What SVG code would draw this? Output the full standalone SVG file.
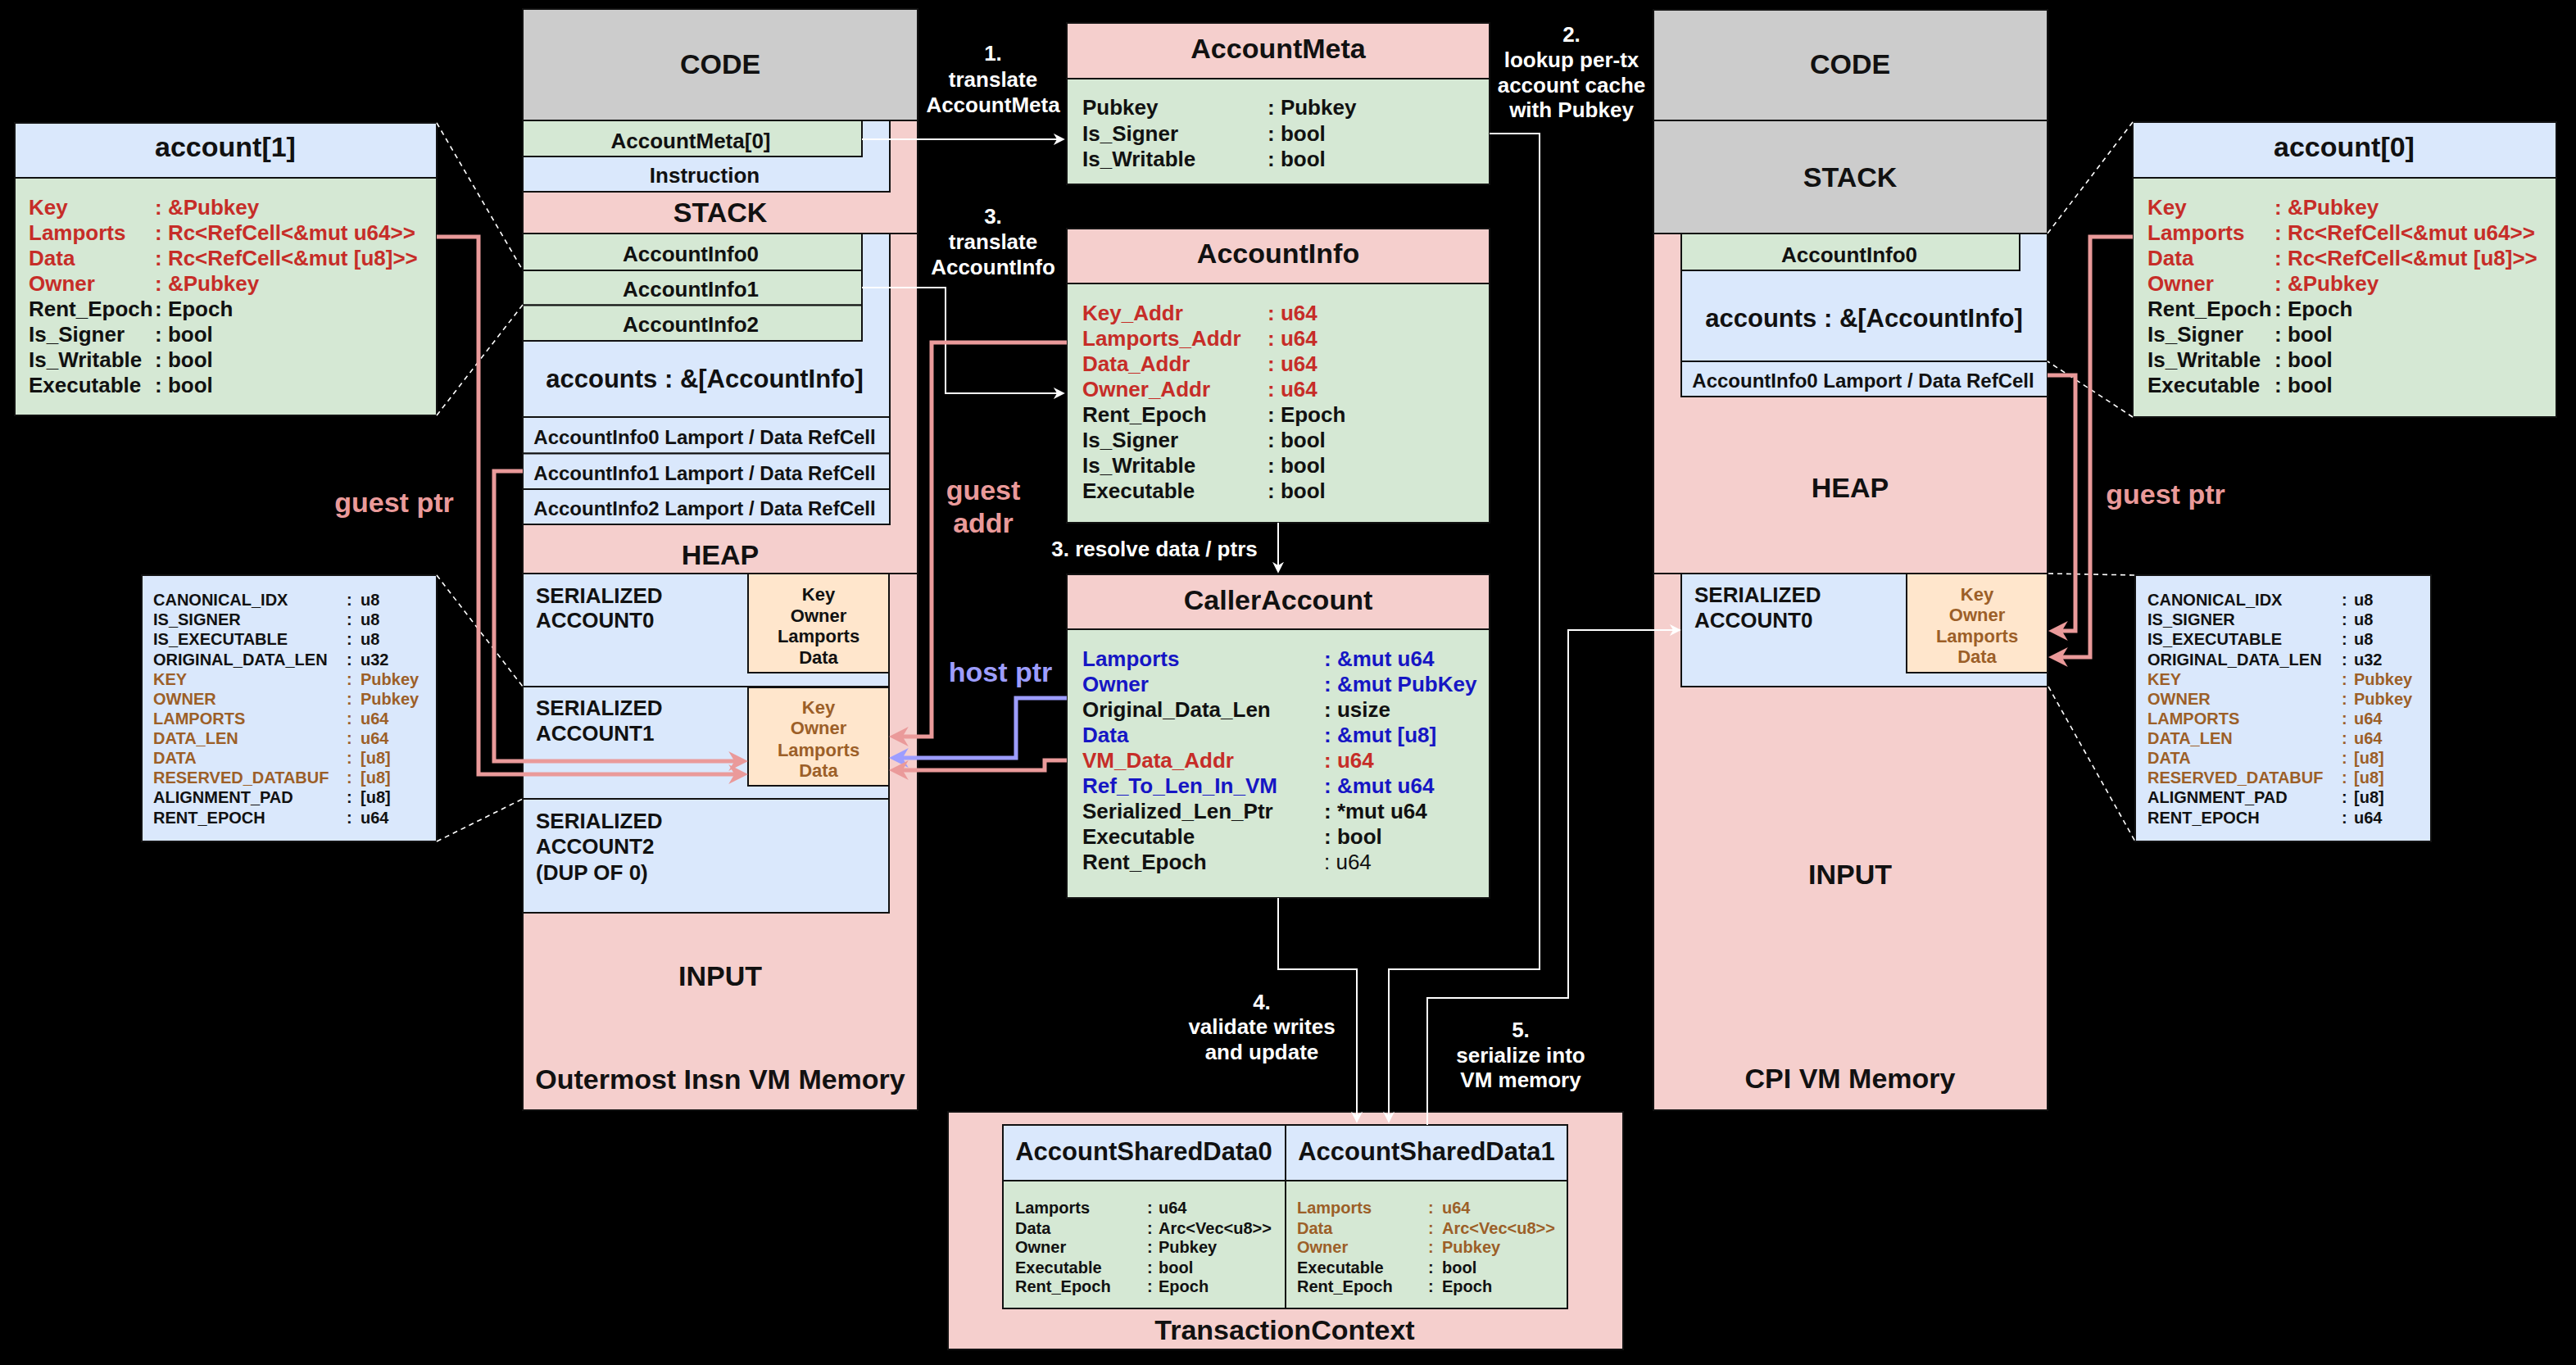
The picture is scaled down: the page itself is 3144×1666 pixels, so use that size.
<svg xmlns="http://www.w3.org/2000/svg" width="3144" height="1666" viewBox="0 0 3144 1666">
<style>
text{font-family:"Liberation Sans",Arial,sans-serif;font-weight:bold;dominant-baseline:central;fill:#111}
.c{text-anchor:middle}
.s34{font-size:34px}
.s31{font-size:31px}
.s26{font-size:26px}
.s24{font-size:24px}
.s22{font-size:22px}
.s20{font-size:20px}
.w{fill:#fff}
.red{fill:#C62D28}
.blu{fill:#1616C4}
.brn{fill:#9C5F28}
.gp{fill:#EA9A9A}
.hp{fill:#9D9DFF}
.nw{font-weight:normal}
.b{stroke:#111;stroke-width:2}
.pk{fill:#F5CFCD}
.bl{fill:#DAE8FC}
.gr{fill:#D5E8D4}
.or{fill:#FFE6CC}
.gy{fill:#CCCCCC}
.wl{fill:none;stroke:#fff;stroke-width:2}
.pl{fill:none;stroke:#EA9A9A;stroke-width:5}
.bll{fill:none;stroke:#9D9DFF;stroke-width:5}
.dl{fill:none;stroke:#fff;stroke-width:1.6;stroke-dasharray:6 5}
</style>
<defs>
<marker id="aw" viewBox="0 0 10 10" refX="8" refY="5" markerWidth="14" markerHeight="14" markerUnits="userSpaceOnUse" orient="auto"><path d="M0,0 L10,5 L0,10 L3,5 z" fill="#fff"/></marker>
<marker id="ap" viewBox="0 0 10 10" refX="7" refY="5" markerWidth="24" markerHeight="24" markerUnits="userSpaceOnUse" orient="auto"><path d="M0,0 L10,5 L0,10 L3,5 z" fill="#EA9A9A"/></marker>
<marker id="ab" viewBox="0 0 10 10" refX="7" refY="5" markerWidth="24" markerHeight="24" markerUnits="userSpaceOnUse" orient="auto"><path d="M0,0 L10,5 L0,10 L3,5 z" fill="#9D9DFF"/></marker>
</defs>
<rect x="0" y="0" width="3144" height="1666" fill="#000"/>

<g id="account1">
<rect class="b gr" x="18" y="150" width="515" height="357"/>
<rect class="b bl" x="18" y="150" width="515" height="67"/>
<text class="c s34" x="275" y="179">account[1]</text>
<g class="s26">
<text class="red" x="35" y="253">Key</text><text class="red" x="189" y="253">: &amp;Pubkey</text>
<text class="red" x="35" y="284">Lamports</text><text class="red" x="189" y="284">: Rc&lt;RefCell&lt;&amp;mut u64&gt;&gt;</text>
<text class="red" x="35" y="315">Data</text><text class="red" x="189" y="315">: Rc&lt;RefCell&lt;&amp;mut [u8]&gt;&gt;</text>
<text class="red" x="35" y="346">Owner</text><text class="red" x="189" y="346">: &amp;Pubkey</text>
<text x="35" y="377">Rent_Epoch</text><text x="189" y="377">: Epoch</text>
<text x="35" y="408">Is_Signer</text><text x="189" y="408">: bool</text>
<text x="35" y="439">Is_Writable</text><text x="189" y="439">: bool</text>
<text x="35" y="470">Executable</text><text x="189" y="470">: bool</text>
</g>
</g>

<g id="account0">
<rect class="b gr" x="2603" y="149" width="517" height="360"/>
<rect class="b bl" x="2603" y="149" width="517" height="68"/>
<text class="c s34" x="2861" y="179">account[0]</text>
<g class="s26">
<text class="red" x="2621" y="253">Key</text><text class="red" x="2776" y="253">: &amp;Pubkey</text>
<text class="red" x="2621" y="284">Lamports</text><text class="red" x="2776" y="284">: Rc&lt;RefCell&lt;&amp;mut u64&gt;&gt;</text>
<text class="red" x="2621" y="315">Data</text><text class="red" x="2776" y="315">: Rc&lt;RefCell&lt;&amp;mut [u8]&gt;&gt;</text>
<text class="red" x="2621" y="346">Owner</text><text class="red" x="2776" y="346">: &amp;Pubkey</text>
<text x="2621" y="377">Rent_Epoch</text><text x="2776" y="377">: Epoch</text>
<text x="2621" y="408">Is_Signer</text><text x="2776" y="408">: bool</text>
<text x="2621" y="439">Is_Writable</text><text x="2776" y="439">: bool</text>
<text x="2621" y="470">Executable</text><text x="2776" y="470">: bool</text>
</g>
</g>

<g id="serialized-layout-left" class="s20">
<rect class="b bl" x="173" y="702" width="360" height="325"/>
<text x="187" y="732">CANONICAL_IDX</text><text x="423" y="732">:</text><text x="440" y="732">u8</text>
<text x="187" y="756">IS_SIGNER</text><text x="423" y="756">:</text><text x="440" y="756">u8</text>
<text x="187" y="780">IS_EXECUTABLE</text><text x="423" y="780">:</text><text x="440" y="780">u8</text>
<text x="187" y="805">ORIGINAL_DATA_LEN</text><text x="423" y="805">:</text><text x="440" y="805">u32</text>
<text class="brn" x="187" y="829">KEY</text><text class="brn" x="423" y="829">:</text><text class="brn" x="440" y="829">Pubkey</text>
<text class="brn" x="187" y="853">OWNER</text><text class="brn" x="423" y="853">:</text><text class="brn" x="440" y="853">Pubkey</text>
<text class="brn" x="187" y="877">LAMPORTS</text><text class="brn" x="423" y="877">:</text><text class="brn" x="440" y="877">u64</text>
<text class="brn" x="187" y="901">DATA_LEN</text><text class="brn" x="423" y="901">:</text><text class="brn" x="440" y="901">u64</text>
<text class="brn" x="187" y="925">DATA</text><text class="brn" x="423" y="925">:</text><text class="brn" x="440" y="925">[u8]</text>
<text class="brn" x="187" y="949">RESERVED_DATABUF</text><text class="brn" x="423" y="949">:</text><text class="brn" x="440" y="949">[u8]</text>
<text x="187" y="973">ALIGNMENT_PAD</text><text x="423" y="973">:</text><text x="440" y="973">[u8]</text>
<text x="187" y="998">RENT_EPOCH</text><text x="423" y="998">:</text><text x="440" y="998">u64</text>
</g>

<g id="serialized-layout-right" class="s20">
<rect class="b bl" x="2606" y="702" width="361" height="325"/>
<text x="2621" y="732">CANONICAL_IDX</text><text x="2858" y="732">:</text><text x="2873" y="732">u8</text>
<text x="2621" y="756">IS_SIGNER</text><text x="2858" y="756">:</text><text x="2873" y="756">u8</text>
<text x="2621" y="780">IS_EXECUTABLE</text><text x="2858" y="780">:</text><text x="2873" y="780">u8</text>
<text x="2621" y="805">ORIGINAL_DATA_LEN</text><text x="2858" y="805">:</text><text x="2873" y="805">u32</text>
<text class="brn" x="2621" y="829">KEY</text><text class="brn" x="2858" y="829">:</text><text class="brn" x="2873" y="829">Pubkey</text>
<text class="brn" x="2621" y="853">OWNER</text><text class="brn" x="2858" y="853">:</text><text class="brn" x="2873" y="853">Pubkey</text>
<text class="brn" x="2621" y="877">LAMPORTS</text><text class="brn" x="2858" y="877">:</text><text class="brn" x="2873" y="877">u64</text>
<text class="brn" x="2621" y="901">DATA_LEN</text><text class="brn" x="2858" y="901">:</text><text class="brn" x="2873" y="901">u64</text>
<text class="brn" x="2621" y="925">DATA</text><text class="brn" x="2858" y="925">:</text><text class="brn" x="2873" y="925">[u8]</text>
<text class="brn" x="2621" y="949">RESERVED_DATABUF</text><text class="brn" x="2858" y="949">:</text><text class="brn" x="2873" y="949">[u8]</text>
<text x="2621" y="973">ALIGNMENT_PAD</text><text x="2858" y="973">:</text><text x="2873" y="973">[u8]</text>
<text x="2621" y="998">RENT_EPOCH</text><text x="2858" y="998">:</text><text x="2873" y="998">u64</text>
</g>

<g id="outermost-vm">
<rect class="b pk" x="638" y="11" width="482" height="1344"/>
<rect class="b gy" x="638" y="11" width="482" height="136"/>
<text class="c s34" x="879" y="78">CODE</text>
<rect class="b bl" x="638" y="147" width="448" height="87"/>
<rect class="b gr" x="638" y="147" width="414" height="44"/>
<text class="c s26" x="843" y="172">AccountMeta[0]</text>
<text class="c s26" x="860" y="214">Instruction</text>
<text class="c s34" x="879" y="259">STACK</text>
<line class="b" x1="638" y1="285" x2="1120" y2="285"/>
<rect class="b bl" x="638" y="285" width="448" height="355"/>
<rect class="b gr" x="638" y="285" width="414" height="45"/>
<rect class="b gr" x="638" y="330" width="414" height="42.5"/>
<rect class="b gr" x="638" y="372.5" width="414" height="43.5"/>
<text class="c s26" x="843" y="310">AccountInfo0</text>
<text class="c s26" x="843" y="353">AccountInfo1</text>
<text class="c s26" x="843" y="396">AccountInfo2</text>
<text class="c s31" x="860" y="462">accounts : &amp;[AccountInfo]</text>
<rect class="b bl" x="638" y="509" width="448" height="44.5"/>
<rect class="b bl" x="638" y="553.5" width="448" height="43.5"/>
<rect class="b bl" x="638" y="597" width="448" height="43"/>
<text class="c s24" x="860" y="533">AccountInfo0 Lamport / Data RefCell</text>
<text class="c s24" x="860" y="577">AccountInfo1 Lamport / Data RefCell</text>
<text class="c s24" x="860" y="620">AccountInfo2 Lamport / Data RefCell</text>
<text class="c s34" x="879" y="677">HEAP</text>
<line class="b" x1="638" y1="700" x2="1120" y2="700"/>
<rect class="b bl" x="638" y="700" width="447" height="138"/>
<rect class="b or" x="913" y="700" width="172" height="121"/>
<text class="s26" x="654" y="727">SERIALIZED</text>
<text class="s26" x="654" y="757">ACCOUNT0</text>
<text class="c s22" x="999" y="725">Key</text>
<text class="c s22" x="999" y="751">Owner</text>
<text class="c s22" x="999" y="776">Lamports</text>
<text class="c s22" x="999" y="802">Data</text>
<rect class="b bl" x="638" y="838" width="447" height="137"/>
<rect class="b or" x="913" y="839" width="172" height="120"/>
<text class="s26" x="654" y="864">SERIALIZED</text>
<text class="s26" x="654" y="895">ACCOUNT1</text>
<text class="c s22 brn" x="999" y="863">Key</text>
<text class="c s22 brn" x="999" y="888">Owner</text>
<text class="c s22 brn" x="999" y="915">Lamports</text>
<text class="c s22 brn" x="999" y="940">Data</text>
<rect class="b bl" x="638" y="975" width="447" height="139"/>
<text class="s26" x="654" y="1002">SERIALIZED</text>
<text class="s26" x="654" y="1033">ACCOUNT2</text>
<text class="s26" x="654" y="1065">(DUP OF 0)</text>
<text class="c s34" x="879" y="1191">INPUT</text>
<text class="c s34" x="879" y="1317">Outermost Insn VM Memory</text>
</g>

<g id="cpi-vm">
<rect class="b pk" x="2018" y="12" width="481" height="1343"/>
<rect class="b gy" x="2018" y="12" width="481" height="135"/>
<rect class="b gy" x="2018" y="147" width="481" height="138"/>
<text class="c s34" x="2258" y="78">CODE</text>
<text class="c s34" x="2258" y="216">STACK</text>
<rect class="b bl" x="2052" y="285" width="447" height="199"/>
<rect class="b gr" x="2052" y="285" width="413" height="45"/>
<text class="c s26" x="2257" y="311">AccountInfo0</text>
<text class="c s31" x="2275" y="388">accounts : &amp;[AccountInfo]</text>
<rect class="b bl" x="2052" y="441" width="447" height="43"/>
<text class="c s24" x="2274" y="464">AccountInfo0 Lamport / Data RefCell</text>
<text class="c s34" x="2258" y="595">HEAP</text>
<line class="b" x1="2018" y1="700" x2="2499" y2="700"/>
<rect class="b bl" x="2052" y="700" width="447" height="138"/>
<rect class="b or" x="2327" y="700" width="172" height="121"/>
<text class="s26" x="2068" y="726">SERIALIZED</text>
<text class="s26" x="2068" y="757">ACCOUNT0</text>
<text class="c s22 brn" x="2413" y="725">Key</text>
<text class="c s22 brn" x="2413" y="750">Owner</text>
<text class="c s22 brn" x="2413" y="776">Lamports</text>
<text class="c s22 brn" x="2413" y="801">Data</text>
<text class="c s34" x="2258" y="1067">INPUT</text>
<text class="c s34" x="2258" y="1316">CPI VM Memory</text>
</g>

<g id="account-meta">
<rect class="b gr" x="1302" y="28" width="516" height="197"/>
<rect class="b pk" x="1302" y="28" width="516" height="68"/>
<text class="c s34" x="1560" y="59">AccountMeta</text>
<g class="s26">
<text x="1321" y="131">Pubkey</text><text x="1547" y="131">: Pubkey</text>
<text x="1321" y="163">Is_Signer</text><text x="1547" y="163">: bool</text>
<text x="1321" y="194">Is_Writable</text><text x="1547" y="194">: bool</text>
</g>
</g>

<g id="account-info">
<rect class="b gr" x="1302" y="279" width="516" height="359"/>
<rect class="b pk" x="1302" y="279" width="516" height="67"/>
<text class="c s34" x="1560" y="309">AccountInfo</text>
<g class="s26">
<text class="red" x="1321" y="382">Key_Addr</text><text class="red" x="1547" y="382">: u64</text>
<text class="red" x="1321" y="413">Lamports_Addr</text><text class="red" x="1547" y="413">: u64</text>
<text class="red" x="1321" y="444">Data_Addr</text><text class="red" x="1547" y="444">: u64</text>
<text class="red" x="1321" y="475">Owner_Addr</text><text class="red" x="1547" y="475">: u64</text>
<text x="1321" y="506">Rent_Epoch</text><text x="1547" y="506">: Epoch</text>
<text x="1321" y="537">Is_Signer</text><text x="1547" y="537">: bool</text>
<text x="1321" y="568">Is_Writable</text><text x="1547" y="568">: bool</text>
<text x="1321" y="599">Executable</text><text x="1547" y="599">: bool</text>
</g>
</g>

<g id="caller-account">
<rect class="b gr" x="1302" y="701" width="516" height="395"/>
<rect class="b pk" x="1302" y="701" width="516" height="67"/>
<text class="c s34" x="1560" y="732">CallerAccount</text>
<g class="s26">
<text class="blu" x="1321" y="804">Lamports</text><text class="blu" x="1616" y="804">: &amp;mut u64</text>
<text class="blu" x="1321" y="835">Owner</text><text class="blu" x="1616" y="835">: &amp;mut PubKey</text>
<text x="1321" y="866">Original_Data_Len</text><text x="1616" y="866">: usize</text>
<text class="blu" x="1321" y="897">Data</text><text class="blu" x="1616" y="897">: &amp;mut [u8]</text>
<text class="red" x="1321" y="928">VM_Data_Addr</text><text class="red" x="1616" y="928">: u64</text>
<text class="blu" x="1321" y="959">Ref_To_Len_In_VM</text><text class="blu" x="1616" y="959">: &amp;mut u64</text>
<text x="1321" y="990">Serialized_Len_Ptr</text><text x="1616" y="990">: *mut u64</text>
<text x="1321" y="1021">Executable</text><text x="1616" y="1021">: bool</text>
<text x="1321" y="1052">Rent_Epoch</text><text class="nw" x="1616" y="1052">: u64</text>
</g>
</g>

<g id="transaction-context">
<rect class="b pk" x="1157" y="1357" width="824" height="290"/>
<rect class="b gr" x="1224" y="1373" width="345" height="224"/>
<rect class="b gr" x="1569" y="1373" width="344" height="224"/>
<rect class="b bl" x="1224" y="1373" width="345" height="68"/>
<rect class="b bl" x="1569" y="1373" width="344" height="68"/>
<text class="c s31" x="1396" y="1405">AccountSharedData0</text>
<text class="c s31" x="1741" y="1405">AccountSharedData1</text>
<g class="s20">
<text x="1239" y="1474">Lamports</text><text x="1400" y="1474">:</text><text x="1414" y="1474">u64</text>
<text x="1239" y="1499">Data</text><text x="1400" y="1499">:</text><text x="1414" y="1499">Arc&lt;Vec&lt;u8&gt;&gt;</text>
<text x="1239" y="1522">Owner</text><text x="1400" y="1522">:</text><text x="1414" y="1522">Pubkey</text>
<text x="1239" y="1547">Executable</text><text x="1400" y="1547">:</text><text x="1414" y="1547">bool</text>
<text x="1239" y="1570">Rent_Epoch</text><text x="1400" y="1570">:</text><text x="1414" y="1570">Epoch</text>
<text class="brn" x="1583" y="1474">Lamports</text><text class="brn" x="1743" y="1474">:</text><text class="brn" x="1760" y="1474">u64</text>
<text class="brn" x="1583" y="1499">Data</text><text class="brn" x="1743" y="1499">:</text><text class="brn" x="1760" y="1499">Arc&lt;Vec&lt;u8&gt;&gt;</text>
<text class="brn" x="1583" y="1522">Owner</text><text class="brn" x="1743" y="1522">:</text><text class="brn" x="1760" y="1522">Pubkey</text>
<text x="1583" y="1547">Executable</text><text x="1743" y="1547">:</text><text x="1760" y="1547">bool</text>
<text x="1583" y="1570">Rent_Epoch</text><text x="1743" y="1570">:</text><text x="1760" y="1570">Epoch</text>
</g>
<text class="c s34" x="1568" y="1623">TransactionContext</text>
</g>

<g id="connectors">
<path class="dl" d="M533,150 L638,330"/>
<path class="dl" d="M533,507 L638,372"/>
<path class="dl" d="M533,702 L638,838"/>
<path class="dl" d="M533,1027 L638,975"/>
<path class="dl" d="M2603,149 L2499,285"/>
<path class="dl" d="M2603,509 L2499,441"/>
<path class="dl" d="M2500,700 L2606,702"/>
<path class="dl" d="M2500,838 L2606,1027"/>
<path class="wl" d="M1052,170 H1297" marker-end="url(#aw)"/>
<path class="wl" d="M1818,163 H1879 V1183 H1695 V1368" marker-end="url(#aw)"/>
<path class="wl" d="M1052,351 H1154 V480 H1297" marker-end="url(#aw)"/>
<path class="wl" d="M1560,638 V697" marker-end="url(#aw)"/>
<path class="wl" d="M1560,1096 V1183 H1656 V1368" marker-end="url(#aw)"/>
<path class="wl" d="M1742,1373 V1218 H1914 V769 H2049" marker-end="url(#aw)"/>
<path class="pl" d="M533,289 H584 V945 H906" marker-end="url(#ap)"/>
<path class="pl" d="M638,575 H603 V929 H906" marker-end="url(#ap)"/>
<path class="pl" d="M1302,418 H1137 V899 H1092" marker-end="url(#ap)"/>
<path class="bll" d="M1302,852 H1240 V925 H1092" marker-end="url(#ab)"/>
<path class="pl" d="M1302,928 H1275 V940 H1092" marker-end="url(#ap)"/>
<path class="pl" d="M2499,458 H2533 V770 H2507" marker-end="url(#ap)"/>
<path class="pl" d="M2603,289 H2551 V802 H2507" marker-end="url(#ap)"/>
</g>

<g id="labels" class="s26">
<text class="c w" x="1212" y="65">1.</text>
<text class="c w" x="1212" y="97">translate</text>
<text class="c w" x="1212" y="128">AccountMeta</text>
<text class="c w" x="1918" y="42">2.</text>
<text class="c w" x="1918" y="73">lookup per-tx</text>
<text class="c w" x="1918" y="104">account cache</text>
<text class="c w" x="1918" y="134">with Pubkey</text>
<text class="c w" x="1212" y="264">3.</text>
<text class="c w" x="1212" y="295">translate</text>
<text class="c w" x="1212" y="326">AccountInfo</text>
<text class="c w" x="1409" y="670">3. resolve data / ptrs</text>
<text class="c w" x="1540" y="1223">4.</text>
<text class="c w" x="1540" y="1253">validate writes</text>
<text class="c w" x="1540" y="1284">and update</text>
<text class="c w" x="1856" y="1257">5.</text>
<text class="c w" x="1856" y="1288">serialize into</text>
<text class="c w" x="1856" y="1318">VM memory</text>
<text class="c s34 gp" x="481" y="613">guest ptr</text>
<text class="c s34 gp" x="2643" y="603">guest ptr</text>
<text class="c s34 gp" x="1200" y="598">guest</text>
<text class="c s34 gp" x="1200" y="638">addr</text>
<text class="c s34 hp" x="1221" y="820">host ptr</text>
</g>
</svg>
